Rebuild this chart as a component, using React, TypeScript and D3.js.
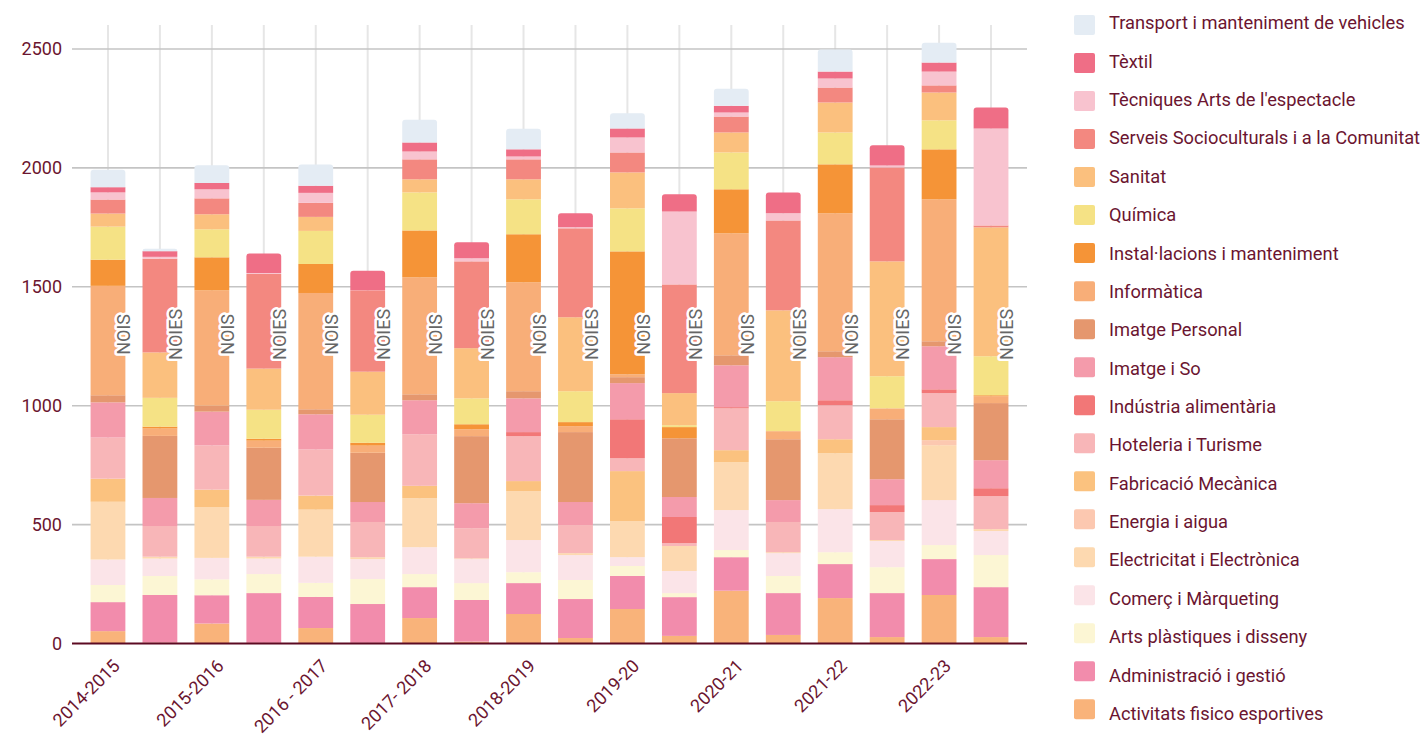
import React from 'react';
import * as d3 from 'd3';

const years = ['2014-2015', '2015-2016', '2016 - 2017', '2017- 2018', '2018-2019', '2019-20', '2020-21', '2021-22', '2022-23'];
const genders = ['NOIS', 'NOIES'];
const yTicks = [0, 500, 1000, 1500, 2000, 2500];

// stack order: bottom -> top
const categories = [
  'Activitats fisico esportives',
  'Administració i gestió',
  'Arts plàstiques i disseny',
  'Comerç i Màrqueting',
  'Electricitat i Electrònica',
  'Energia i aigua',
  'Fabricació Mecànica',
  'Hoteleria i Turisme',
  'Indústria alimentària',
  'Imatge i So',
  'Imatge Personal',
  'Informàtica',
  'Instal·lacions i manteniment',
  'Química',
  'Sanitat',
  'Serveis Socioculturals i a la Comunitat',
  "Tècniques Arts de l'espectacle",
  'Tèxtil',
  'Transport i manteniment de vehicles',
];

const colors = [
  '#f9b37a', '#f28cac', '#fcf6d4', '#fbe4e8', '#fdd9b0', '#fcc8b0', '#fbc27f', '#f8b6b8', '#f27777',
  '#f49bab', '#e5976e', '#f8ae78', '#f59437', '#f5e285', '#fbc07e', '#f38880', '#f8c3cf', '#ef6e86', '#e4ecf4',
];

// values per bar: 2014-2015 NOIS, 2014-2015 NOIES, 2015-2016 NOIS, ...
const activitats = [52, 4, 84, 3, 65, 3, 107, 8, 124, 23, 145, 32, 222, 36, 191, 27, 204, 27];
const administracio = [122, 200, 119, 209, 131, 163, 130, 175, 130, 164, 139, 163, 141, 176, 143, 185, 151, 210];
const artsPlastiques = [72, 80, 67, 80, 59, 105, 55, 71, 46, 80, 42, 17, 30, 72, 50, 109, 59, 135];
const comerc = [107, 73, 90, 65, 110, 84, 113, 101, 135, 105, 37, 93, 168, 96, 181, 110, 189, 101];
const electricitat = [243, 8, 214, 8, 198, 8, 206, 3, 206, 8, 152, 105, 202, 4, 235, 4, 231, 8];
const energia = [0, 0, 0, 0, 0, 0, 0, 0, 0, 0, 0, 0, 0, 0, 0, 0, 21, 0];
const fabricacio = [97, 0, 73, 0, 59, 0, 52, 0, 42, 0, 210, 0, 50, 0, 59, 0, 55, 0];
const hoteleria = [173, 129, 186, 129, 194, 148, 217, 127, 189, 118, 54, 12, 176, 127, 143, 118, 143, 139];
const industria = [0, 0, 0, 0, 0, 0, 0, 0, 17, 0, 164, 110, 5, 0, 21, 29, 16, 33];
const imatgeSo = [148, 118, 142, 110, 148, 84, 143, 105, 142, 97, 152, 84, 176, 92, 181, 109, 181, 118];
const imatgePersonal = [30, 261, 25, 219, 21, 207, 25, 282, 30, 294, 25, 247, 42, 256, 25, 252, 21, 240];
const informatica = [460, 31, 485, 30, 489, 30, 492, 29, 458, 25, 12, 0, 513, 34, 580, 46, 597, 29];
const installacions = [110, 8, 139, 8, 122, 12, 197, 21, 202, 17, 517, 47, 185, 0, 206, 0, 210, 4];
const quimica = [139, 121, 118, 122, 139, 118, 160, 109, 147, 130, 181, 8, 155, 126, 134, 135, 122, 164];
const sanitat = [55, 191, 63, 173, 59, 181, 55, 211, 84, 311, 151, 135, 84, 382, 126, 483, 117, 542];
const serveis = [59, 394, 67, 398, 59, 342, 84, 365, 84, 374, 84, 457, 67, 378, 63, 395, 30, 8];
const tecniques = [30, 8, 38, 4, 42, 0, 33, 13, 12, 4, 63, 307, 17, 30, 38, 8, 58, 408];
const textil = [22, 24, 27, 82, 30, 82, 38, 67, 30, 59, 38, 72, 28, 88, 29, 85, 38, 88];
const transport = [73, 10, 74, 0, 89, 0, 95, 0, 87, 0, 64, 0, 72, 0, 93, 0, 83, 0];

const seriesValues = [
  activitats, administracio, artsPlastiques, comerc, electricitat, energia, fabricacio, hoteleria, industria,
  imatgeSo, imatgePersonal, informatica, installacions, quimica, sanitat, serveis, tecniques, textil, transport,
];

const W = 1423;
const H = 735;
const TEXT = '#6b1530';
const FONT = 'Roboto, "Noto Sans", sans-serif';

export default function App() {
  const barKeys = years.flatMap((y) => genders.map((g) => `${y}|${g}`));
  const rows = barKeys.map((k, i) => {
    const r: Record<string, any> = { key: k };
    categories.forEach((c, j) => (r[c] = seriesValues[j][i]));
    return r;
  });
  const stacked = d3.stack<any>().keys(categories)(rows);

  const x = d3.scaleBand<string>().domain(barKeys).range([82, 1017]).paddingInner(0.33).paddingOuter(0.165);
  const y = d3.scaleLinear().domain([0, 2500]).range([643.5, 49]);
  const bw = x.bandwidth();

  // top-most non-zero series per bar
  const topIdx = barKeys.map((_, i) => {
    let t = 0;
    categories.forEach((_, j) => {
      if (seriesValues[j][i] > 0) t = j;
    });
    return t;
  });

  const roundTop = (x0: number, y0: number, w: number, h: number, r: number) => {
    const rr = Math.min(r, h);
    return `M${x0},${y0 + h}V${y0 + rr}Q${x0},${y0} ${x0 + rr},${y0}H${x0 + w - rr}Q${x0 + w},${y0} ${x0 + w},${y0 + rr}V${y0 + h}Z`;
  };

  const gridLeft = 72;
  const gridRight = 1027;

  return (
    <svg width={W} height={H} style={{ position: 'absolute', left: 0, top: 0, fontFamily: FONT }}>
      <rect width={W} height={H} fill="#ffffff" />
      {/* vertical gridlines */}
      {barKeys.map((k) => (
        <line key={'v' + k} x1={x(k)! + bw / 2} x2={x(k)! + bw / 2} y1={25} y2={643} stroke="#e6e6e6" strokeWidth={2} />
      ))}
      {/* horizontal gridlines */}
      {yTicks.filter((t) => t > 0).map((t) => (
        <line key={'h' + t} x1={gridLeft} x2={gridRight} y1={y(t)} y2={y(t)} stroke="#c4c4c4" strokeWidth={1.6} />
      ))}
      {/* y labels */}
      {yTicks.map((t) => (
        <text key={'yl' + t} x={62} y={y(t)} dy="0.35em" textAnchor="end" fontSize={18} fill={TEXT}>
          {t}
        </text>
      ))}
      {/* bars */}
      {stacked.map((s, j) => (
        <g key={s.key} fill={colors[j]}>
          {s.map((d, i) => {
            const v = d[1] - d[0];
            if (v <= 0) return null;
            const x0 = x(barKeys[i])!;
            const y0 = y(d[1]);
            const h = y(d[0]) - y(d[1]);
            if (topIdx[i] === j) return <path key={i} d={roundTop(x0, y0, bw, h, 3)} />;
            return <rect key={i} x={x0} y={y0} width={bw} height={h} />;
          })}
        </g>
      ))}
      {/* baseline */}
      <line x1={gridLeft} x2={gridRight} y1={y(0)} y2={y(0)} stroke="#5c0a22" strokeWidth={2} />
      {/* NOIS / NOIES labels */}
      {barKeys.map((k) => {
        const cx = x(k)! + bw / 2 + 16;
        const cy = y(1300);
        const g = k.split('|')[1];
        return (
          <text
            key={'g' + k}
            transform={`translate(${cx},${cy}) rotate(-90)`}
            textAnchor="middle"
            dy="0.35em"
            fontSize={18}
            fill="#666666"
            stroke="#ffffff"
            strokeWidth={5}
            strokeLinejoin="round"
            paintOrder="stroke"
          >
            {g}
          </text>
        );
      })}
      {/* x labels */}
      {years.map((yr, i) => {
        const k = barKeys[i * 2];
        const ax = x(k)! + bw / 2 + 13;
        const ay = 667;
        return (
          <text key={'x' + yr} transform={`translate(${ax},${ay}) rotate(-45)`} textAnchor="end" fontSize={18} fill={TEXT}>
            {yr}
          </text>
        );
      })}
      {/* legend */}
      {categories
        .map((c, j) => ({ c, j }))
        .reverse()
        .map(({ c, j }, i) => {
          const cy = 25 + i * 38.02;
          const ty = 29.3 + i * 38.37;
          return (
            <g key={'lg' + c}>
              <rect x={1074} y={cy - 10} width={21} height={20} rx={2} fill={colors[j]} />
              <text x={1109} y={ty} fontSize={18.3} fill={TEXT}>
                {c}
              </text>
            </g>
          );
        })}
    </svg>
  );
}
